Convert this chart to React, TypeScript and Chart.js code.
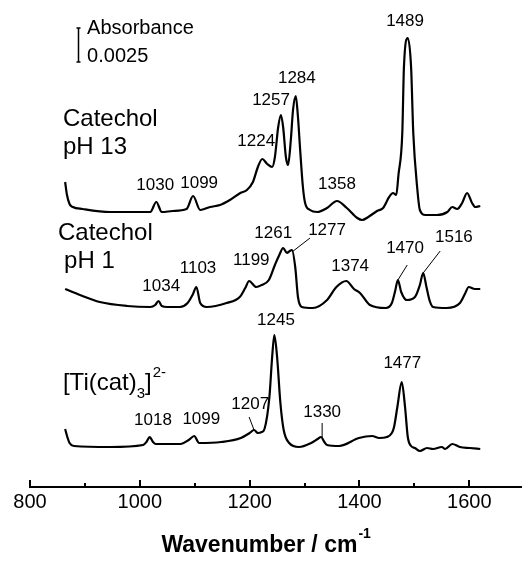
import React, { useEffect, useRef } from 'react';
import { Chart, registerables } from 'chart.js';

Chart.register(...registerables);

const FONT = '"Liberation Sans", Arial, Helvetica, sans-serif';

// Catechol pH 13 trace (wavenumber / cm-1, stacked absorbance in offset units)
const ph13Wn = [864, 867, 872, 878, 896, 946, 1000, 1019, 1030, 1040, 1060, 1085, 1097, 1110, 1128, 1146, 1164, 1183, 1195, 1206, 1215, 1223, 1232, 1241, 1246, 1252, 1257, 1261, 1266, 1270, 1275, 1279, 1284, 1288, 1292, 1297, 1301, 1310, 1323, 1341, 1359, 1377, 1396, 1405, 1416, 1432, 1443, 1454, 1461, 1467, 1471, 1478, 1481, 1488, 1494, 1498, 1505, 1510, 1520, 1541, 1560, 1569, 1578, 1587, 1596, 1605, 1611, 1620];
const ph13Abs = [305, 293, 283, 280, 278, 275, 275, 275, 285, 275, 276, 278, 291, 277, 280, 282, 287, 294, 297, 305, 320, 328, 323, 320, 330, 360, 372, 360, 330, 322, 347, 377, 391, 370, 337, 300, 284, 277, 275, 279, 286, 279, 269, 267, 270, 276, 279, 290, 294, 292, 312, 354, 420, 449, 420, 354, 300, 277, 272, 272, 275, 280, 278, 284, 294, 284, 280, 281];

// Catechol pH 1 trace
const ph1Wn = [864, 891, 927, 977, 1019, 1028, 1034, 1040, 1050, 1073, 1087, 1096, 1103, 1110, 1122, 1158, 1182, 1192, 1199, 1212, 1222, 1235, 1246, 1254, 1261, 1268, 1273, 1277, 1283, 1288, 1295, 1315, 1341, 1358, 1376, 1390, 1401, 1419, 1448, 1459, 1465, 1470, 1476, 1486, 1501, 1510, 1516, 1522, 1528, 1534, 1559, 1583, 1592, 1599, 1610, 1620];
const ph1Abs = [198, 192, 185, 181, 180, 182, 186, 181, 180, 180, 184, 192, 200, 184, 180, 184, 190, 199, 206, 200, 202, 207, 222, 232, 239, 234, 236, 237, 220, 190, 180, 179, 187, 200, 206, 198, 194, 182, 179, 184, 196, 207, 195, 187, 190, 202, 214, 200, 186, 180, 179, 184, 193, 200, 198, 198];

// [Ti(cat)3]2- trace
const tiWn = [864, 868, 872, 880, 946, 1006, 1012, 1018, 1024, 1029, 1074, 1089, 1099, 1108, 1148, 1184, 1200, 1208, 1215, 1222, 1227, 1236, 1241, 1245, 1250, 1256, 1262, 1272, 1290, 1312, 1324, 1330, 1336, 1341, 1363, 1399, 1423, 1436, 1450, 1459, 1463, 1469, 1477, 1483, 1488, 1494, 1501, 1510, 1523, 1534, 1550, 1556, 1569, 1583, 1601, 1620];
const tiAbs = [58, 50, 44, 41, 40, 42, 45, 50, 45, 43, 43, 47, 51, 44, 45, 49, 54, 57, 54, 55, 58, 90, 130, 152, 130, 84, 57, 44, 40, 44, 48, 50, 45, 42, 41, 49, 51, 49, 50, 54, 60, 80, 105, 80, 50, 41, 39, 36, 39, 38, 40, 38, 43, 40, 39, 38];

const majorTicks = [800, 1000, 1200, 1400, 1600];
const minorTicks = [900, 1100, 1300, 1500];
const xMin = 800;
const xMax = 1696;
const yMin = 0;
const yMax = 487;

// Peak labels: text, anchor wavenumber (centre), anchor height (baseline)
const peakText = ['1030', '1099', '1224', '1257', '1284', '1358', '1489', '1034', '1103', '1199', '1261', '1277', '1374', '1470', '1516', '1018', '1099', '1207', '1245', '1330', '1477'];
const peakX = [1028, 1108, 1212, 1239, 1286, 1359, 1483, 1039, 1106, 1203, 1243, 1341, 1383, 1483, 1572, 1024, 1112, 1201, 1248, 1332, 1478];
const peakY = [297, 299, 341, 382, 404, 298, 461, 196, 214, 222, 249, 252, 216, 234, 245, 62, 63, 78, 162, 70, 119];

// Leader lines from label to peak
const leaderX1 = [1277, 1470, 1516, 1208, 1332];
const leaderY1 = [235, 207, 214, 57, 49];
const leaderX2 = [1310, 1487, 1547, 1199, 1332];
const leaderY2 = [249, 222, 236, 70, 64];

// Scale bar: 0.0025 absorbance
const scaleBarX = 887;
const scaleBarLow = 425;
const scaleBarHigh = 459;

const App: React.FC = () => {
  const canvasRef = useRef<HTMLCanvasElement | null>(null);

  useEffect(() => {
    const canvas = canvasRef.current;
    if (!canvas) return;

    const toPts = (xs: number[], ys: number[]) => xs.map((x, i) => ({ x, y: ys[i] }));

    const annot = {
      id: 'annot',
      afterDraw(chart: any) {
        const ctx = chart.ctx as CanvasRenderingContext2D;
        const xs = chart.scales.x;
        const ys = chart.scales.y;
        const px = (v: number) => xs.getPixelForValue(v);
        const py = (v: number) => ys.getPixelForValue(v);
        ctx.save();
        ctx.fillStyle = '#000';
        ctx.strokeStyle = '#000';

        // inward tick marks
        ctx.lineWidth = 2;
        const axisY = xs.top;
        majorTicks.forEach((v) => {
          const x = Math.round(px(v));
          ctx.beginPath();
          ctx.moveTo(x, axisY);
          ctx.lineTo(x, axisY - 7);
          ctx.stroke();
        });
        minorTicks.forEach((v) => {
          const x = Math.round(px(v));
          ctx.beginPath();
          ctx.moveTo(x, axisY);
          ctx.lineTo(x, axisY - 4);
          ctx.stroke();
        });

        // peak labels
        ctx.font = `17px ${FONT}`;
        ctx.textAlign = 'center';
        ctx.textBaseline = 'alphabetic';
        peakText.forEach((t, i) => {
          ctx.fillText(t, px(peakX[i]), py(peakY[i]));
        });

        // leader lines
        ctx.lineWidth = 1;
        leaderX1.forEach((x1, i) => {
          ctx.beginPath();
          ctx.moveTo(px(x1), py(leaderY1[i]));
          ctx.lineTo(px(leaderX2[i]), py(leaderY2[i]));
          ctx.stroke();
        });

        // series names
        ctx.textAlign = 'left';
        ctx.font = `24px ${FONT}`;
        ctx.fillText('Catechol', px(860), py(361));
        ctx.fillText('pH 13', px(860), py(333));
        ctx.fillText('Catechol', px(851), py(247));
        ctx.fillText('pH 1', px(862), py(219));

        // [Ti(cat)3]2-
        let tx = px(860);
        const tb = py(97);
        ctx.fillText('[Ti(cat)', tx, tb);
        tx += ctx.measureText('[Ti(cat)').width;
        ctx.font = `15px ${FONT}`;
        ctx.fillText('3', tx, tb + 8);
        tx += ctx.measureText('3').width;
        ctx.font = `24px ${FONT}`;
        ctx.fillText(']', tx, tb);
        tx += ctx.measureText(']').width + 1;
        ctx.font = `15px ${FONT}`;
        ctx.fillText('2-', tx, tb - 13);

        // scale bar
        ctx.lineWidth = 1.5;
        const bx = Math.round(px(scaleBarX)) + 0.5;
        const b1 = py(scaleBarLow);
        const b2 = py(scaleBarHigh);
        ctx.beginPath();
        ctx.moveTo(bx, b1);
        ctx.lineTo(bx, b2);
        ctx.moveTo(bx - 2, b1);
        ctx.lineTo(bx + 2, b1);
        ctx.moveTo(bx - 2, b2);
        ctx.lineTo(bx + 2, b2);
        ctx.stroke();
        ctx.font = `20px ${FONT}`;
        ctx.fillText('Absorbance', px(904), py(453));
        ctx.fillText('0.0025', px(904), py(425));

        // axis title with superscript
        const main = 'Wavenumber / cm';
        ctx.font = `bold 23px ${FONT}`;
        const wMain = ctx.measureText(main).width;
        ctx.font = `bold 14px ${FONT}`;
        const wSup = ctx.measureText('-1').width;
        const cx = px(1230);
        const left = cx - (wMain + wSup + 1) / 2;
        const base = xs.top + 65;
        ctx.font = `bold 23px ${FONT}`;
        ctx.fillText(main, left, base);
        ctx.font = `bold 14px ${FONT}`;
        ctx.fillText('-1', left + wMain + 1, base - 14);

        ctx.restore();
      },
    };

    const lineStyle = {
      borderColor: '#000',
      borderWidth: 2.2,
      pointRadius: 0,
      fill: false,
      cubicInterpolationMode: 'monotone' as const,
    };

    const chart = new Chart(canvas, {
      type: 'line',
      data: {
        datasets: [
          { label: 'Catechol pH 13', data: toPts(ph13Wn, ph13Abs), ...lineStyle },
          { label: 'Catechol pH 1', data: toPts(ph1Wn, ph1Abs), ...lineStyle },
          { label: '[Ti(cat)3]2-', data: toPts(tiWn, tiAbs), ...lineStyle },
        ],
      },
      options: {
        animation: false,
        responsive: false,
        maintainAspectRatio: false,
        devicePixelRatio: 1,
        layout: { padding: { left: 30, right: 0, top: 0, bottom: 0 } },
        plugins: {
          legend: { display: false },
          tooltip: { enabled: false },
        },
        scales: {
          x: {
            type: 'linear',
            min: xMin,
            max: xMax,
            grid: { display: false, drawTicks: false },
            border: { display: true, color: '#000', width: 2 },
            afterBuildTicks: (scale: any) => {
              scale.ticks = [...majorTicks, ...minorTicks]
                .sort((a, b) => a - b)
                .map((v) => ({ value: v }));
            },
            afterFit: (scale: any) => {
              scale.height = 75;
            },
            ticks: {
              autoSkip: false,
              maxRotation: 0,
              padding: 3,
              color: '#000',
              font: { family: FONT, size: 20 },
              callback: (v: any) => (majorTicks.includes(Number(v)) ? String(v) : ''),
            },
          },
          y: { display: false, min: yMin, max: yMax },
        },
      },
      plugins: [annot],
    });

    return () => chart.destroy();
  }, []);

  return (
    <div style={{ position: 'absolute', left: 0, top: 0, width: 522, height: 562, background: '#fff' }}>
      <canvas ref={canvasRef} width={522} height={562} />
    </div>
  );
};

export default App;
